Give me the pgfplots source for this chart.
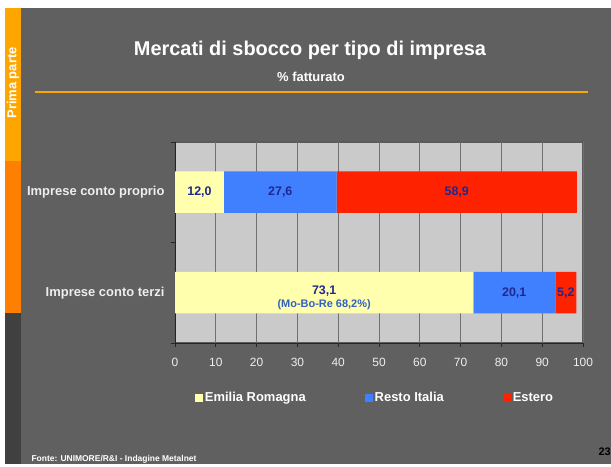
\documentclass[border=0pt]{standalone}
\usepackage{pgfplots}
\pgfplotsset{compat=1.18}
\usepackage{fontspec}
\setmainfont{Liberation Sans}
\definecolor{bg}{HTML}{606060}
\definecolor{plotbg}{HTML}{CACACA}
\definecolor{gridc}{HTML}{707070}
\definecolor{ery}{HTML}{FFFFAE}
\definecolor{rib}{HTML}{4080FF}
\definecolor{esr}{HTML}{FF2200}
\definecolor{lab}{HTML}{1E2890}
\definecolor{mob}{HTML}{3060C0}
\definecolor{orA}{HTML}{FFA500}
\definecolor{orB}{HTML}{FF7F00}
\definecolor{side}{HTML}{404040}
\definecolor{txt}{HTML}{EEEEEE}
\pgfplotsset{myleg/.style={legend image code/.code={\fill[##1] (0bp,-4bp) rectangle (8bp,4bp);}}}
\begin{document}
\begin{tikzpicture}[x=1bp,y=1bp]
\fill[white] (0,0) rectangle (611,464);
\fill[bg] (5,0) rectangle (611,456);
\fill[orA] (5,303) rectangle (21,456);
\fill[orB] (5,151) rectangle (21,303);
\fill[side] (5,0) rectangle (21,151);
\node[rotate=90, text=white, font=\bfseries\fontsize{13}{15}\selectfont] at (13,381) {Prima parte};
\node[text=white, font=\bfseries\fontsize{20}{24}\selectfont] at (310,414) {Mercati di sbocco per tipo di impresa};
\node[text=white, font=\bfseries\fontsize{13}{15}\selectfont] at (311,387) {\% fatturato};
\draw[orA, line width=1.5bp] (35,372) -- (588,372);
\node[anchor=west, text=white, font=\bfseries\fontsize{8.5}{10}\selectfont] at (28,5) {Fonte: UNIMORE/R\&I - Indagine Metalnet};
\node[anchor=east, text=black, font=\bfseries\fontsize{11}{13}\selectfont, inner sep=0pt] at (611,12) {23};

\begin{axis}[at={(175bp,121bp)}, anchor=south west, scale only axis,
  width=408bp, height=201bp,
  xbar stacked, bar width=41.5bp,
  xmin=0, xmax=100, ymin=-0.5, ymax=1.5,
  axis lines*=left,
  axis line style={draw=black!85, line width=0.8bp, -},
  axis background/.style={fill=plotbg, draw=gridc!80!black, line width=1.2bp},
  xmajorgrids, major grid style={draw=gridc, line width=0.8bp},
  xtick={0,10,...,100}, tick align=outside, major tick length=4bp,
  tick style={draw=black!85, line width=0.8bp},
  ytick={-0.5,0.5,1.5}, yticklabels={},
  extra y ticks={0,1},
  extra y tick labels={Imprese conto terzi, Imprese conto proprio},
  extra y tick style={major tick length=0pt, grid=none,
    yticklabel style={font=\bfseries\fontsize{13}{15}\selectfont, text=txt, xshift=-7bp}},
  xticklabel style={font=\fontsize{12}{14}\selectfont, text=txt, yshift=-8bp},
  /pgf/number format/assume math mode=true,
  legend style={at={(0.049,-0.2736)}, anchor=west, draw=none, fill=none,
    inner sep=0pt, outer sep=0pt, text=white,
    font=\bfseries\fontsize{13}{15}\selectfont,
    /tikz/every even column/.append style={column sep=57bp}},
  legend columns=3,
]
\addplot[fill=ery, draw=none, myleg] coordinates {(73.1,0) (12.0,1)};
\addplot[fill=rib, draw=none, myleg] coordinates {(20.1,0) (27.6,1)};
\addplot[fill=esr, draw=none, myleg] coordinates {(5.2,0) (58.9,1)};
\legend{Emilia Romagna, Resto Italia, Estero}
\end{axis}

\begin{axis}[at={(175bp,121bp)}, anchor=south west, scale only axis,
  width=408bp, height=201bp,
  xmin=0, xmax=100, ymin=-0.5, ymax=1.5, hide axis, clip=false]
\addplot[draw=none, mark=none, nodes near coords, point meta=explicit symbolic,
  nodes near coords align=center,
  every node near coord/.append style={font=\bfseries\fontsize{12.5}{14}\selectfont, text=lab}]
  coordinates {(6,1) [12,0] (25.8,1) [27,6] (69.05,1) [58,9] (83.15,0) [20,1] (95.8,0) [5,2]};
\addplot[draw=none, mark=none, nodes near coords, point meta=explicit symbolic,
  nodes near coords align=center,
  every node near coord/.append style={font=\bfseries\fontsize{12.5}{14}\selectfont, text=lab, yshift=2bp}]
  coordinates {(36.55,0) [73,1]};
\addplot[draw=none, mark=none, nodes near coords, point meta=explicit symbolic,
  nodes near coords align=center,
  every node near coord/.append style={font=\bfseries\fontsize{11}{13}\selectfont, text=mob, yshift=-11.5bp}]
  coordinates {(36.55,0) [(Mo-Bo-Re 68,2\%)]};
\end{axis}
\end{tikzpicture}
\end{document}
